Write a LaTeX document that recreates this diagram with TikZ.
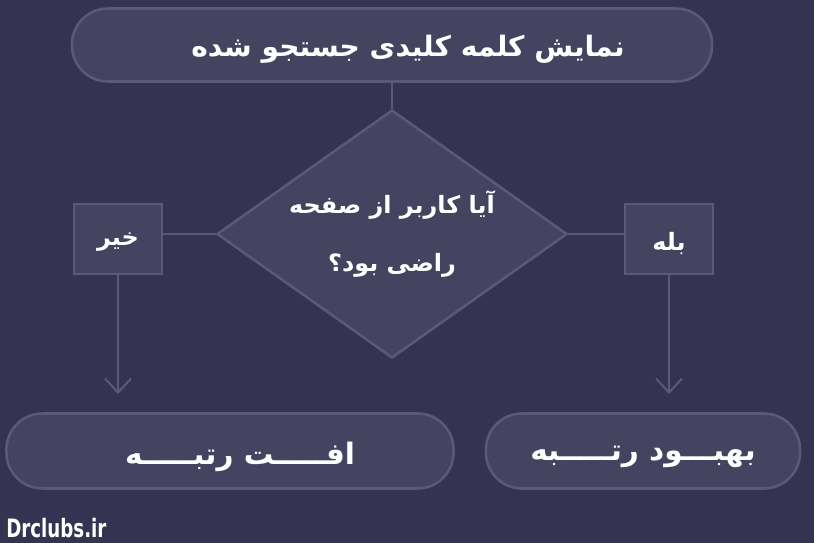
\documentclass[tikz,border=0pt]{standalone}
\usepackage{fontspec}
\newfontfamily\persianfont[Script=Arabic]{DejaVu Sans}
\newfontfamily\markfont[FakeStretch=0.8]{DejaVu Sans Condensed}
\TeXXeTstate=1
\usetikzlibrary{shapes.geometric,arrows.meta}

\definecolor{bgnavy}{RGB}{52,52,82}
\definecolor{boxfill}{RGB}{68,67,96}
\definecolor{boxline}{RGB}{90,90,117}

% right-to-left text, drawn a little lower than its box
\newcommand{\rtl}[2][0pt]{\raisebox{-#1}[\height][\depth]{\beginR #2\endR}}

\tikzset{
    pill/.style={draw=boxline, fill=boxfill, line width=1.8pt, rounded corners=0.9cm,
        inner sep=0pt, text=white, font=\persianfont\bfseries\fontsize{21}{25}\selectfont},
    answer/.style={draw=boxline, fill=boxfill, line width=1.8pt, inner sep=0pt,
        minimum width=2.2cm, minimum height=1.75cm, text=white,
        font=\persianfont\bfseries\fontsize{17}{20}\selectfont},
    question/.style={diamond, aspect=1.41, draw=boxline, fill=boxfill, line width=1.8pt, inner sep=0pt,
        minimum width=8.75cm, minimum height=6.2cm, text=white, align=center,
        font=\persianfont\bfseries\fontsize{17}{20}\selectfont},
    link/.style={draw=boxline, line width=1.4pt}
}

\begin{document}
\begin{tikzpicture}[x=0.025cm, y=-0.025cm]
    % Background and page size
    \fill[bgnavy] (0,0) rectangle (814,543);
    \useasboundingbox (0,0) rectangle (814,543);

    % Start of the chart
    \node[pill, minimum width=16cm, minimum height=1.825cm, font=\persianfont\bfseries\fontsize{20}{24}\selectfont]
        (shown) at (392,45) {\hspace{0.8cm}\rtl[3pt]{نمایش کلمه کلیدی جستجو شده}};

    % Decision
    \node[question] (satisfied) at (392,234)
        {\rtl{آیا کاربر از صفحه}\\[0.75cm] \rtl{راضی بود؟}};

    % Answers
    \node[answer] (no) at (118,239) {\rtl[2pt]{خیر}};
    \node[answer] (yes) at (669,239) {\rtl[3pt]{بله}};

    % Results
    \node[pill, minimum width=11.175cm, minimum height=1.875cm] (drop) at (230,451)
        {\hspace{0.5cm}\rtl[4pt]{افـــــت رتبـــــه}};
    \node[pill, minimum width=7.85cm, minimum height=1.875cm] (rise) at (643,451)
        {\rtl[4pt]{بهبـــود رتـــــبه}};

    % Ends of the arrows
    \coordinate (noEnd) at (118,394);
    \coordinate (yesEnd) at (669,394);

    % Connectors
    \draw[link] (shown.south) -- (satisfied.north);
    \draw[link] (satisfied.west) -- (satisfied.west -| no.east);
    \draw[link] (satisfied.east) -- (satisfied.east -| yes.west);
    \draw[link, -{Straight Barb[length=0.35cm, width=0.65cm]}] (no.south) -- (noEnd);
    \draw[link, -{Straight Barb[length=0.35cm, width=0.65cm]}] (yes.south) -- (yesEnd);

    % Watermark
    \node[anchor=west, text=white, inner sep=0pt, font=\markfont\bfseries\fontsize{18}{20}\selectfont]
        (mark) at (6,528) {Drclubs.ir};
\end{tikzpicture}
\end{document}
